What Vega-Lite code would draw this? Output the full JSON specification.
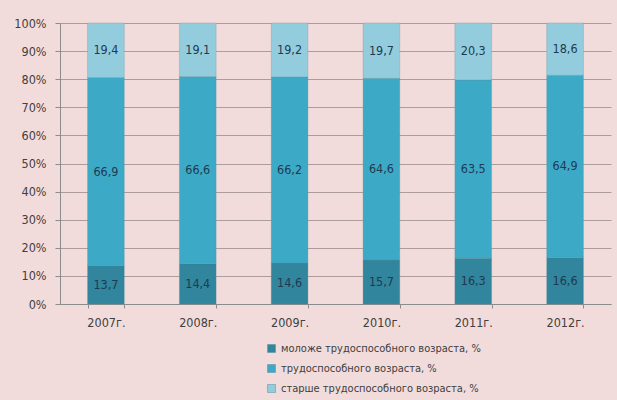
{
  "$schema": "https://vega.github.io/schema/vega-lite/v6.json",
  "width": 551,
  "height": 281,
  "autosize": {"type": "none"},
  "padding": {"left": 60, "top": 23, "right": 6, "bottom": 96},
  "background": "#f2dcdb",
  "config": {
    "font": "Liberation Sans Narrow, DejaVu Sans Condensed, sans-serif",
    "view": {"stroke": null},
    "axis": {"labelFont": "Liberation Sans Narrow, DejaVu Sans Condensed, sans-serif", "labelFontSize": 12.5, "labelColor": "#404040", "domainColor": "#8c8c8c", "tickColor": "#8c8c8c"},
    "legend": {"labelFont": "Liberation Sans Narrow, DejaVu Sans Condensed, sans-serif", "labelFontSize": 11, "labelColor": "#404040", "labelLimit": 400}
  },
  "data": {
    "values": [
      {"year": "2007г.", "group": "моложе трудоспособного возраста, %", "ord": 1, "v": 13.7},
      {"year": "2007г.", "group": "трудоспособного возраста, %", "ord": 2, "v": 66.9},
      {"year": "2007г.", "group": "старше трудоспособного возраста, %", "ord": 3, "v": 19.4},
      {"year": "2008г.", "group": "моложе трудоспособного возраста, %", "ord": 1, "v": 14.4},
      {"year": "2008г.", "group": "трудоспособного возраста, %", "ord": 2, "v": 66.6},
      {"year": "2008г.", "group": "старше трудоспособного возраста, %", "ord": 3, "v": 19.1},
      {"year": "2009г.", "group": "моложе трудоспособного возраста, %", "ord": 1, "v": 14.6},
      {"year": "2009г.", "group": "трудоспособного возраста, %", "ord": 2, "v": 66.2},
      {"year": "2009г.", "group": "старше трудоспособного возраста, %", "ord": 3, "v": 19.2},
      {"year": "2010г.", "group": "моложе трудоспособного возраста, %", "ord": 1, "v": 15.7},
      {"year": "2010г.", "group": "трудоспособного возраста, %", "ord": 2, "v": 64.6},
      {"year": "2010г.", "group": "старше трудоспособного возраста, %", "ord": 3, "v": 19.7},
      {"year": "2011г.", "group": "моложе трудоспособного возраста, %", "ord": 1, "v": 16.3},
      {"year": "2011г.", "group": "трудоспособного возраста, %", "ord": 2, "v": 63.5},
      {"year": "2011г.", "group": "старше трудоспособного возраста, %", "ord": 3, "v": 20.3},
      {"year": "2012г.", "group": "моложе трудоспособного возраста, %", "ord": 1, "v": 16.6},
      {"year": "2012г.", "group": "трудоспособного возраста, %", "ord": 2, "v": 64.9},
      {"year": "2012г.", "group": "старше трудоспособного возраста, %", "ord": 3, "v": 18.6}
    ]
  },
  "transform": [
    {"stack": "v", "groupby": ["year"], "sort": [{"field": "ord", "order": "ascending"}], "offset": "normalize", "as": ["y0", "y1"]},
    {"calculate": "(datum.y0 + datum.y1) / 2", "as": "ymid"},
    {"calculate": "replace(format(datum.v, '.1f'), '.', ',')", "as": "lbl"}
  ],
  "encoding": {
    "x": {
      "field": "year", "type": "nominal", "title": null,
      "scale": {"paddingInner": 0.6, "paddingOuter": 0.3},
      "axis": {"labelAngle": 0, "tickBand": "extent", "labelPadding": 8, "tickSize": 4}
    }
  },
  "layer": [
    {
      "mark": {"type": "bar", "stroke": "#5a8fa0", "strokeWidth": 0.5, "strokeOpacity": 0.6},
      "encoding": {
        "y": {
          "field": "y0", "type": "quantitative", "title": null,
          "scale": {"domain": [0, 1], "nice": false},
          "axis": {"format": ".0%", "values": [0, 0.1, 0.2, 0.3, 0.4, 0.5, 0.6, 0.7, 0.8, 0.9, 1], "labelOverlap": false, "grid": true, "gridColor": "#9a8c8c", "gridWidth": 0.8, "domain": true, "ticks": true, "tickSize": 5, "labelPadding": 9}
        },
        "y2": {"field": "y1"},
        "color": {
          "field": "group", "type": "nominal",
          "scale": {
            "domain": ["моложе трудоспособного возраста, %", "трудоспособного возраста, %", "старше трудоспособного возраста, %"],
            "range": ["#31859c", "#3caac6", "#93cddd"]
          },
          "legend": {
            "title": null, "orient": "none", "legendX": 206, "legendY": 320,
            "direction": "vertical", "symbolType": "square", "symbolSize": 64,
            "symbolStrokeColor": "#5a8fa0", "symbolStrokeWidth": 0.5,
            "rowPadding": 8, "labelOffset": 4, "labelLimit": 400
          }
        }
      }
    },
    {
      "mark": {"type": "text", "fontSize": 12.5, "font": "Liberation Sans Narrow, DejaVu Sans Condensed, sans-serif", "color": "#1f3a52"},
      "encoding": {
        "y": {
          "field": "ymid", "type": "quantitative",
          "axis": {"format": ".0%", "values": [0, 0.1, 0.2, 0.3, 0.4, 0.5, 0.6, 0.7, 0.8, 0.9, 1], "labelOverlap": false, "grid": true, "gridColor": "#9a8c8c", "gridWidth": 0.8, "domain": true, "ticks": true, "tickSize": 5, "labelPadding": 9}
        },
        "text": {"field": "lbl"}
      }
    }
  ]
}
